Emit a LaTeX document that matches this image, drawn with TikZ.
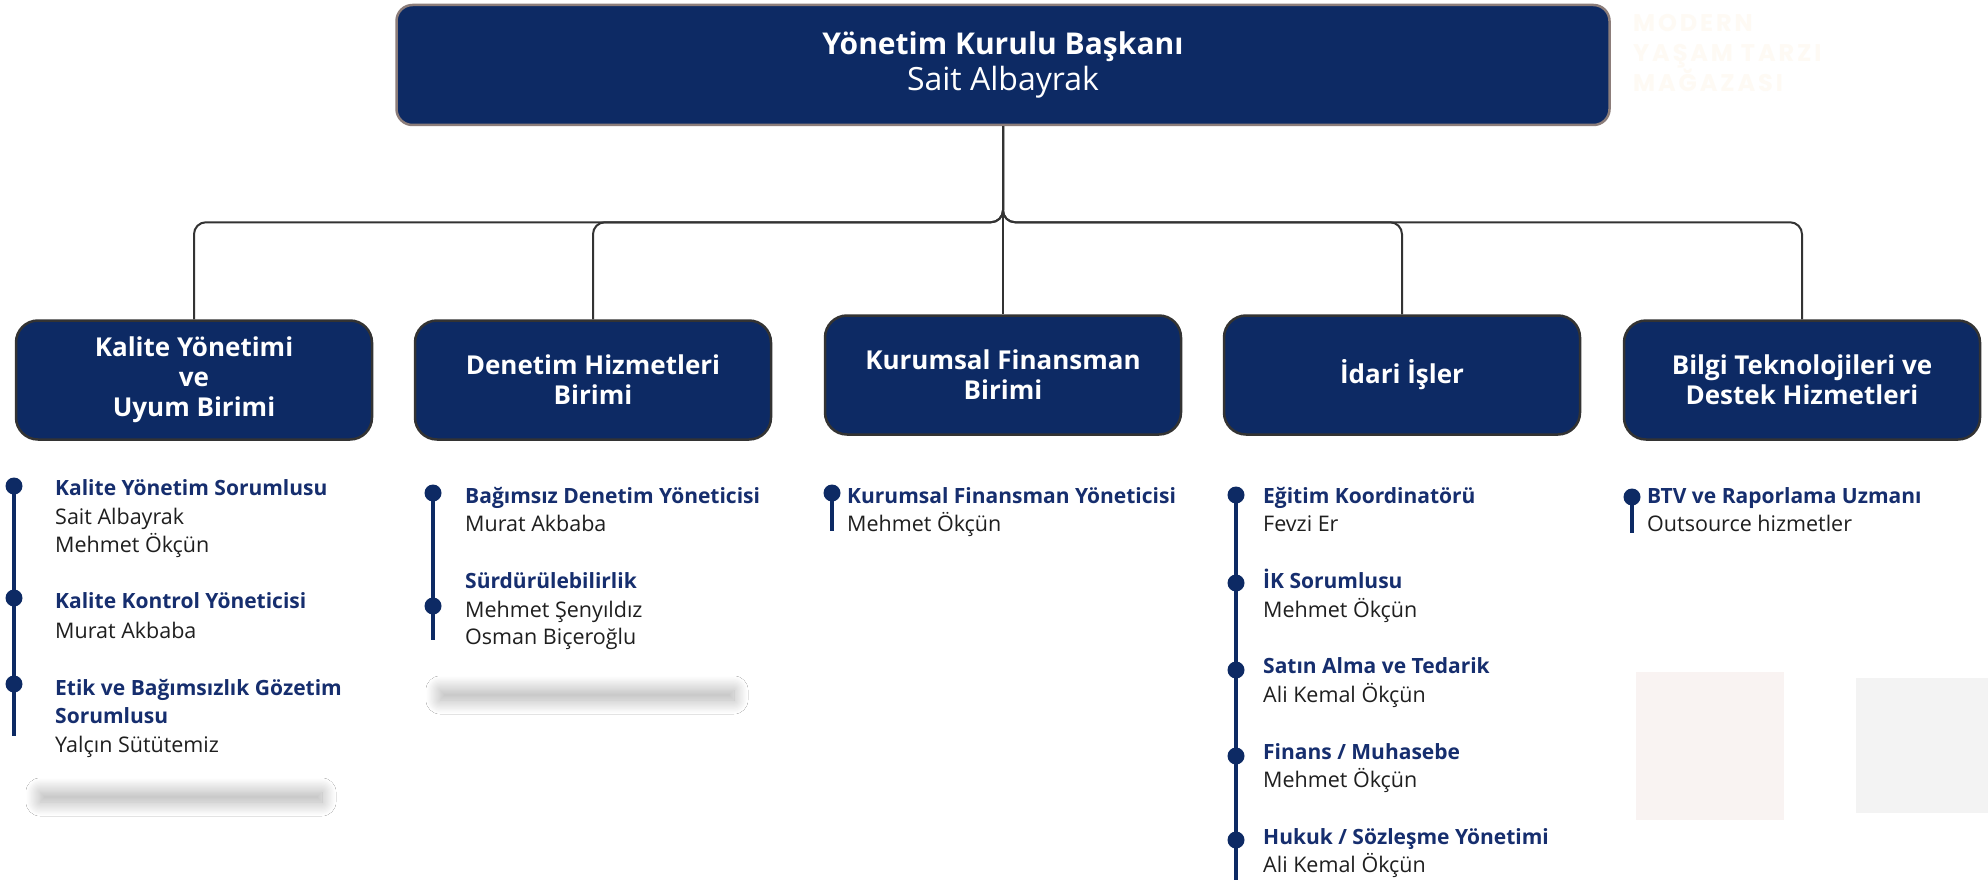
\documentclass[tikz,border=0pt]{standalone}
\usepackage{fontspec}
\setmainfont{Open Sans}
\newfontfamily\markfont[LetterSpace=12]{Poppins}
\usetikzlibrary{positioning, shadows.blur}
\definecolor{boxnavy}{RGB}{13,42,100}
\definecolor{rolenavy}{RGB}{22,46,110}
\definecolor{linegray}{RGB}{51,51,51}
\definecolor{topframe}{RGB}{140,125,122}
\definecolor{markcream}{RGB}{254,250,244}
\definecolor{markpink}{RGB}{249,243,242}
\definecolor{markgray}{RGB}{243,243,243}

\tikzset{
  head/.style={draw=topframe, line width=2.5pt, fill=boxnavy, rounded corners=16pt,
    minimum width=1213pt, minimum height=120pt, align=center, text=white},
  unit/.style={draw=linegray, line width=2.5pt, fill=boxnavy, rounded corners=22pt,
    minimum width=356pt, minimum height=119pt, align=center, text=white,
    font=\fontsize{26}{30}\selectfont\bfseries},
  link/.style={draw=linegray, line width=2pt, rounded corners=12pt},
  tline/.style={draw=boxnavy, line width=3.5pt},
  dot/.style={circle, fill=boxnavy, minimum size=17pt, inner sep=0pt},
  role/.style={anchor=base west, inner sep=0pt, text=rolenavy,
    font=\fontsize{21}{21}\selectfont\bfseries},
  person/.style={anchor=base west, inner sep=0pt, text=black!88,
    font=\fontsize{21.5}{21}\selectfont},
  band/.style={blur shadow={shadow xshift=0pt, shadow yshift=0pt,
    shadow blur radius=14pt, shadow blur steps=30, shadow opacity=32}}
}

\begin{document}
\begin{tikzpicture}[x=1pt, y=-1pt]
    \fill[white] (0,0) rectangle (1988,880);
    \useasboundingbox (0,0) rectangle (1988,880);

    % faint background marks
    \node[anchor=north west, inner sep=0pt, text=markcream, align=left,
      font=\markfont\bfseries\fontsize{24}{30}\selectfont] (mark) at (1633,14)
      {MODERN\\YAŞAM TARZI\\MAĞAZASI};
    \fill[markpink] (1636,672) rectangle (1784,820);
    \fill[markgray] (1856,678) rectangle (1988,813);

    % shadows under the first two lists
    \path[band] (40,792) rectangle (322,802);
    \path[band] (440,690) rectangle (734,700);

    % boxes
    \node[head] (top) at (1003,65)
      {{\fontsize{30}{30}\selectfont\bfseries Yönetim Kurulu Başkanı}\\[4pt]
       {\fontsize{32}{32}\selectfont Sait Albayrak}};
    \node[unit] (kal) at (194,380) {Kalite Yönetimi\\ve\\Uyum Birimi};
    \node[unit] (den) at (593,380) {Denetim Hizmetleri\\Birimi};
    \node[unit] (kur) at (1003,375) {Kurumsal Finansman\\Birimi};
    \node[unit] (ida) at (1402,375) {İdari İşler};
    \node[unit] (bil) at (1802,380) {Bilgi Teknolojileri ve\\Destek Hizmetleri};

    % connectors
    \foreach \u in {kal, den, kur, ida, bil} {
        \draw[link] (top.south) -- ++(0,96) -| (\u.north);
    }

    % Kalite list
    \coordinate (kaend) at (14,736);
    \draw[tline] (14,486) -- (kaend);
    \foreach \y [count=\i] in {486,598,684} {
        \node[dot] (kad\i) at (14,\y) {};
    }
    \foreach \y/\st/\txt [count=\i] in {495/role/Kalite Yönetim Sorumlusu,
        524/person/Sait Albayrak, 552/person/Mehmet Ökçün,
        608/role/Kalite Kontrol Yöneticisi, 638/person/Murat Akbaba,
        695/role/Etik ve Bağımsızlık Gözetim, 723/role/Sorumlusu,
        752/person/Yalçın Sütütemiz} {
        \node[\st] (ka\i) at (55,\y) {\txt};
    }

    % Denetim list
    \coordinate (deend) at (433,640);
    \draw[tline] (433,493) -- (deend);
    \foreach \y [count=\i] in {493,606} {
        \node[dot] (ded\i) at (433,\y) {};
    }
    \foreach \y/\st/\txt [count=\i] in {503/role/Bağımsız Denetim Yöneticisi,
        531/person/Murat Akbaba, 588/role/Sürdürülebilirlik,
        617/person/Mehmet Şenyıldız, 644/person/Osman Biçeroğlu} {
        \node[\st] (de\i) at (465,\y) {\txt};
    }

    % Kurumsal list
    \node[dot] (kud1) at (832,493) {};
    \coordinate (kuend) at (832,531);
    \draw[tline] (kud1.center) -- (kuend);
    \node[role] (ku1) at (847,503) {Kurumsal Finansman Yöneticisi};
    \node[person] (ku2) at (847,531) {Mehmet Ökçün};

    % Idari list
    \coordinate (idend) at (1236,884);
    \draw[tline] (1236,495) -- (idend);
    \foreach \y [count=\i] in {495,583,670,756,840} {
        \node[dot] (idd\i) at (1236,\y) {};
    }
    \foreach \y/\st/\txt [count=\i] in {503/role/Eğitim Koordinatörü,
        531/person/Fevzi Er, 588/role/İK Sorumlusu, 617/person/Mehmet Ökçün,
        673/role/Satın Alma ve Tedarik, 702/person/Ali Kemal Ökçün,
        759/role/{Finans / Muhasebe}, 787/person/Mehmet Ökçün,
        844/role/{Hukuk / Sözleşme Yönetimi}, 872/person/Ali Kemal Ökçün} {
        \node[\st] (id\i) at (1263,\y) {\txt};
    }

    % Bilgi list
    \node[dot] (btd1) at (1632,497) {};
    \coordinate (btend) at (1632,533);
    \draw[tline] (btd1.center) -- (btend);
    \node[role] (bt1) at (1647,503) {BTV ve Raporlama Uzmanı};
    \node[person] (bt2) at (1647,531) {Outsource hizmetler};
\end{tikzpicture}
\end{document}
